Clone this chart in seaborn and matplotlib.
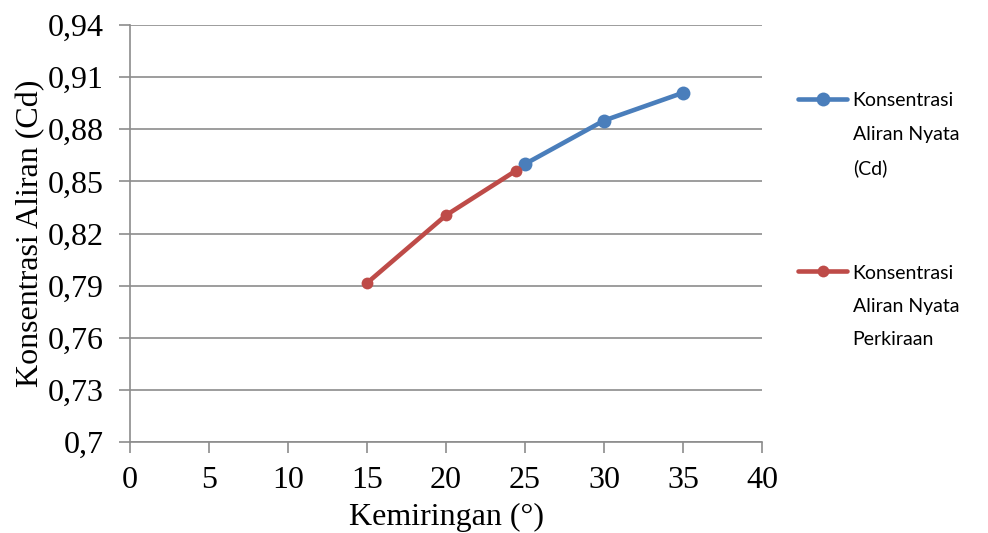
import numpy as np
import pandas as pd
import matplotlib
matplotlib.use("Agg")
import matplotlib.pyplot as plt
import seaborn as sns

# Data
x_actual = [25, 30, 35]
cd_actual = [0.860, 0.885, 0.901]
x_est = [15, 20, 24.4]
cd_est = [0.7915, 0.8305, 0.856]
label_actual = "Konsentrasi\nAliran Nyata\n(Cd)"
label_est = "Konsentrasi\nAliran Nyata\nPerkiraan"
y_ticks = [0.70, 0.73, 0.76, 0.79, 0.82, 0.85, 0.88, 0.91, 0.94]
y_tick_labels = ["0,7", "0,73", "0,76", "0,79", "0,82", "0,85", "0,88", "0,91", "0,94"]
x_ticks = [0, 5, 10, 15, 20, 25, 30, 35, 40]

sns.set_theme(style="white")
plt.rcParams["font.family"] = ["Liberation Serif", "DejaVu Serif"]
plt.rcParams["text.color"] = "black"
plt.rcParams["axes.labelcolor"] = "black"
plt.rcParams["xtick.color"] = "black"
plt.rcParams["ytick.color"] = "black"

fig = plt.figure(figsize=(9.88, 5.33), dpi=100)
ax = fig.add_axes([130/988, 1-442/533, (762-130)/988, (442-25)/533])

df_a = pd.DataFrame({"x": x_actual, "y": cd_actual, "s": label_actual})
df_e = pd.DataFrame({"x": x_est, "y": cd_est, "s": label_est})

blue = "#4A7EBB"
red = "#BE4B48"
sns.lineplot(data=df_a, x="x", y="y", hue="s", palette=[blue], marker="o",
             markersize=10, linewidth=3.3, markeredgewidth=0, ax=ax, sort=False)
sns.lineplot(data=df_e, x="x", y="y", hue="s", palette=[red], marker="o",
             markersize=8.5, linewidth=3.3, markeredgewidth=0, ax=ax, sort=False)

ax.set_xlim(0, 40)
ax.set_ylim(0.70, 0.94)
ax.set_xticks(x_ticks)
ax.set_xticklabels([str(v) for v in x_ticks])
ax.set_yticks(y_ticks)
ax.set_yticklabels(y_tick_labels)
ax.yaxis.grid(True, color="#8C8C8C", linewidth=1.2)
ax.xaxis.grid(False)
ax.set_axisbelow(True)
for sp in ["top", "right"]:
    ax.spines[sp].set_visible(False)
for sp in ["left", "bottom"]:
    ax.spines[sp].set_color("#8C8C8C")
    ax.spines[sp].set_linewidth(1.2)
ax.tick_params(axis="both", which="major", length=8, width=1.2, color="#8C8C8C",
               labelsize=23, labelcolor="black", direction="out", left=True, bottom=True)
ax.tick_params(axis="y", pad=11)
ax.tick_params(axis="x", pad=9)
ax.set_xlabel("Kemiringan (°)", fontsize=23, labelpad=6, color="black")
ax.set_ylabel("Konsentrasi Aliran (Cd)", fontsize=23, labelpad=2, color="black")

handles, labels = ax.get_legend_handles_labels()
leg = ax.legend(handles, labels, loc="upper left", bbox_to_anchor=(1.045, 0.857),
                frameon=False, prop={"family": "Lato", "size": 14},
                handlelength=2.5, handletextpad=0.3, labelspacing=4.5,
                borderaxespad=0)
for t in leg.get_texts():
    t.set_linespacing(2.15)
    t.set_color("black")
# move handles up to align with first text line
fig.canvas.draw()
for h in leg.legend_handles:
    yd = np.asarray(h.get_ydata(), dtype=float)
    h.set_ydata(yd + 26.0)

fig.savefig("out.png", dpi=100)
